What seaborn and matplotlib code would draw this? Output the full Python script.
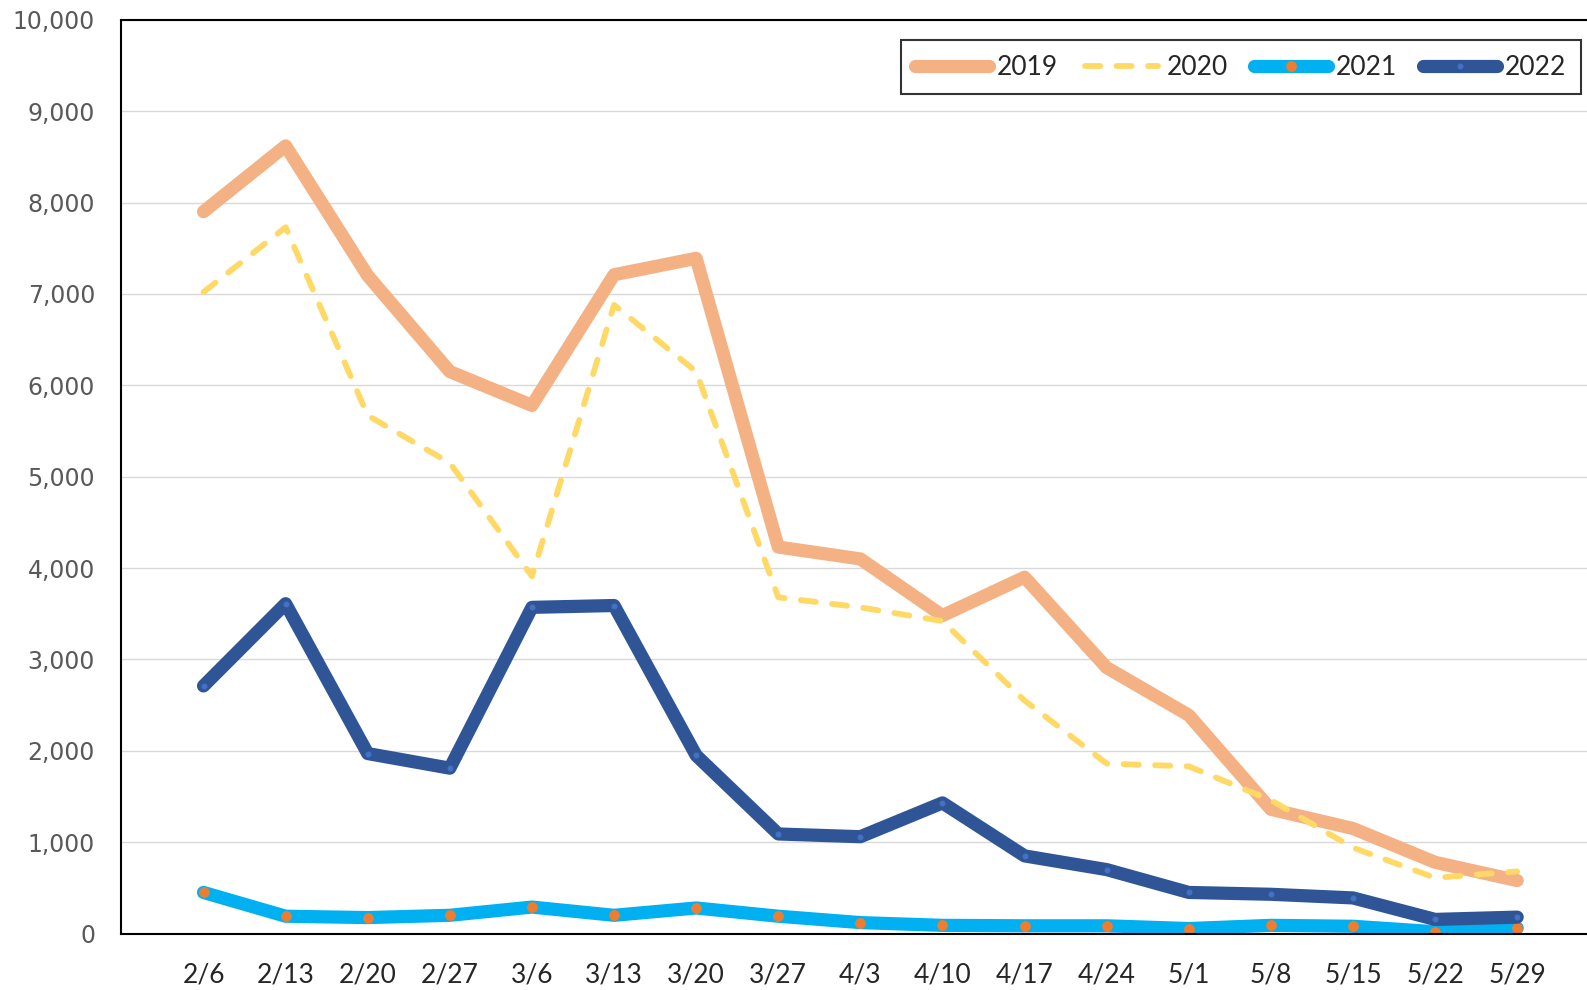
import numpy as np
import pandas as pd
import matplotlib
matplotlib.use("Agg")
import matplotlib.pyplot as plt
from matplotlib import ticker
import seaborn as sns

# fechas (eje x)
fechas = ["2/6", "2/13", "2/20", "2/27", "3/6", "3/13", "3/20", "3/27", "4/3",
          "4/10", "4/17", "4/24", "5/1", "5/8", "5/15", "5/22", "5/29"]

# valores
v2019 = [7900, 8620, 7200, 6150, 5780, 7210, 7390, 4230, 4100,
         3480, 3900, 2910, 2390, 1360, 1150, 780, 580]
v2020 = [7020, 7730, 5670, 5150, 3910, 6880, 6150, 3680, 3570,
         3420, 2550, 1860, 1830, 1460, 940, 610, 680]
v2021 = [450, 190, 175, 200, 290, 200, 280, 190, 120,
         90, 85, 85, 55, 90, 80, 20, 60]
v2022 = [2710, 3610, 1970, 1810, 3570, 3590, 1950, 1090, 1060,
         1430, 850, 700, 450, 430, 390, 155, 180]

#%%
sns.set_style("white")
fuente = ["Lato", "DejaVu Sans"]

fig = plt.figure(figsize=(15.87, 9.9), dpi=100)
ax = fig.add_axes([0.0765, 0.057, 0.9235, 0.923])

x = np.arange(len(fechas))

sns.lineplot(x=x, y=v2019, ax=ax, color="#F4B183", linewidth=9.5,
             solid_capstyle="round", solid_joinstyle="round", label="2019")
sns.lineplot(x=x, y=v2020, ax=ax, color="#FFD966", linewidth=4.2,
             dashes=False, label="2020")
ax.lines[-1].set_dashes([2.6, 2.8])
ax.lines[-1].set_dash_capstyle("round")
sns.lineplot(x=x, y=v2021, ax=ax, color="#00B0F0", linewidth=9.5,
             solid_capstyle="round", solid_joinstyle="round",
             marker="o", markersize=7, markerfacecolor="#ED7D31",
             markeredgecolor="#ED7D31", label="2021")
sns.lineplot(x=x, y=v2022, ax=ax, color="#2F5597", linewidth=9.5,
             solid_capstyle="round", solid_joinstyle="round",
             marker="o", markersize=3.5, markerfacecolor="#4472C4",
             markeredgecolor="#4472C4", label="2022")

# ejes
ax.set_xlim(-1, 16.85)
ax.set_ylim(0, 10000)
ax.set_xticks(x)
ax.set_xticklabels(fechas, fontsize=19, family=fuente)
ax.yaxis.set_major_locator(ticker.MultipleLocator(1000))
ax.yaxis.set_major_formatter(ticker.StrMethodFormatter("{x:,.0f}"))
ax.tick_params(axis="y", labelsize=17, labelcolor="#595959", length=0, pad=19)
ax.tick_params(axis="x", length=9, width=1.5, color="black", direction="out", pad=12)
ax.grid(axis="y", color="#D9D9D9", linewidth=1)
ax.set_axisbelow(True)

ax.spines["right"].set_visible(False)
for s in ["left", "bottom", "top"]:
    ax.spines[s].set_color("black")
    ax.spines[s].set_linewidth(1.5)

leg = ax.legend(loc="upper right", bbox_to_anchor=(0.996, 0.9775), ncol=4,
                frameon=True, fancybox=False, handlelength=2.8, handletextpad=0.3,
                columnspacing=1.0, borderpad=0.55, borderaxespad=0,
                prop={"family": fuente, "size": 19})
leg.get_frame().set_edgecolor("black")
leg.get_frame().set_linewidth(1.5)

fig.savefig("out.png", dpi=100)
